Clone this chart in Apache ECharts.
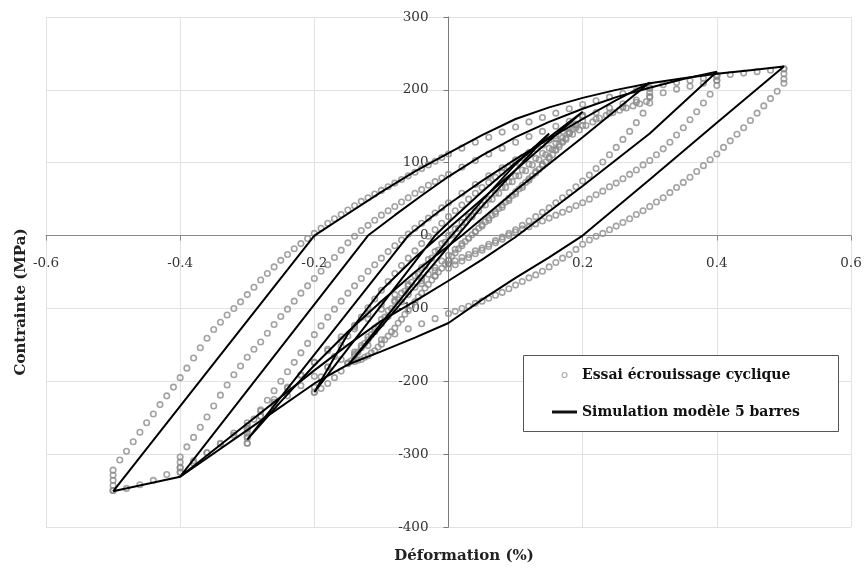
<!DOCTYPE html>
<html>
<head>
<meta charset="utf-8">
<script src="https://cdn.jsdelivr.net/npm/echarts/dist/echarts.min.js"></script>
<style>
html,body{margin:0;padding:0;background:#fff;}
#chart{width:865px;height:569px;}
</style>
</head>
<body>
<div id="chart"></div>
<script>
// ---- Data: Essai écrouissage cyclique (experiment, strain %, stress MPa) ----
const expUp05 = [[-0.5,-350],[-0.5,-343],[-0.5,-336],[-0.5,-329],[-0.5,-322],[-0.49,-308],[-0.48,-296],[-0.47,-283],[-0.46,-270],[-0.45,-257],[-0.44,-245],[-0.43,-232],[-0.42,-220],[-0.41,-208],[-0.40,-195],[-0.39,-182],[-0.38,-168],[-0.37,-154],[-0.36,-141],[-0.35,-129],[-0.34,-119],[-0.33,-109],[-0.32,-100],[-0.31,-91],[-0.30,-81],[-0.29,-71],[-0.28,-61],[-0.27,-52],[-0.26,-43],[-0.25,-34],[-0.24,-26],[-0.23,-18],[-0.22,-11],[-0.21,-4],[-0.20,3],[-0.19,10],[-0.18,17],[-0.17,23],[-0.16,29],[-0.15,35],[-0.14,41],[-0.13,47],[-0.12,52],[-0.11,57],[-0.10,62],[-0.09,67],[-0.08,72],[-0.07,77],[-0.06,82],[-0.05,87],[-0.04,92],[-0.03,97],[-0.02,102],[-0.01,107],[0,112],[0.02,120],[0.04,128],[0.06,135],[0.08,142],[0.10,149],[0.12,156],[0.14,162],[0.16,168],[0.18,174],[0.20,180],[0.22,185],[0.24,190],[0.26,195],[0.28,199],[0.30,203],[0.32,207],[0.34,210],[0.36,213],[0.38,216],[0.40,218],[0.42,221],[0.44,223],[0.46,225],[0.48,227],[0.50,229]];
const expDown05 = [[0.5,229],[0.5,222],[0.5,215],[0.5,209],[0.49,198],[0.48,188],[0.47,178],[0.46,168],[0.45,158],[0.44,148],[0.43,139],[0.42,130],[0.41,121],[0.40,112],[0.39,104],[0.38,96],[0.37,88],[0.36,80],[0.35,73],[0.34,66],[0.33,59],[0.32,52],[0.31,46],[0.30,40],[0.29,34],[0.28,29],[0.27,23],[0.26,18],[0.25,13],[0.24,8],[0.23,3],[0.22,-1],[0.21,-6],[0.20,-12],[0.19,-19],[0.18,-26],[0.17,-31],[0.16,-37],[0.15,-43],[0.14,-49],[0.13,-54],[0.12,-58],[0.11,-63],[0.10,-68],[0.09,-73],[0.08,-78],[0.07,-82],[0.06,-86],[0.05,-90],[0.04,-93],[0.03,-97],[0.02,-100],[0.01,-104],[0,-107],[-0.02,-114],[-0.04,-121],[-0.06,-128],[-0.08,-135],[-0.10,-143],[-0.12,-151],[-0.14,-160],[-0.16,-170],[-0.18,-181],[-0.20,-193],[-0.22,-206],[-0.24,-220],[-0.26,-234],[-0.28,-248],[-0.30,-261],[-0.32,-274],[-0.34,-286],[-0.36,-298],[-0.38,-309],[-0.40,-319],[-0.42,-328],[-0.44,-336],[-0.46,-342],[-0.48,-347],[-0.50,-350]];
const expUp04 = [[-0.40,-325],[-0.40,-318],[-0.40,-311],[-0.40,-304],[-0.39,-290],[-0.38,-277],[-0.37,-263],[-0.36,-249],[-0.35,-234],[-0.34,-219],[-0.33,-205],[-0.32,-191],[-0.31,-179],[-0.30,-167],[-0.29,-156],[-0.28,-146],[-0.27,-134],[-0.26,-122],[-0.25,-111],[-0.24,-101],[-0.23,-90],[-0.22,-79],[-0.21,-69],[-0.20,-59],[-0.19,-49],[-0.18,-40],[-0.17,-30],[-0.16,-20],[-0.15,-10],[-0.14,-1],[-0.13,7],[-0.12,14],[-0.11,21],[-0.10,28],[-0.09,34],[-0.08,40],[-0.07,46],[-0.06,52],[-0.05,58],[-0.04,63],[-0.03,69],[-0.02,74],[-0.01,79],[0,84],[0.02,94],[0.04,103],[0.06,112],[0.08,120],[0.10,128],[0.12,136],[0.14,143],[0.16,150],[0.18,157],[0.20,163],[0.22,169],[0.24,175],[0.26,181],[0.28,186],[0.30,191],[0.32,196],[0.34,201],[0.36,205],[0.38,209],[0.40,213],[0.40,220]];
const expDown04 = [[0.40,220],[0.40,213],[0.40,206],[0.39,194],[0.38,182],[0.37,170],[0.36,159],[0.35,148],[0.34,138],[0.33,128],[0.32,119],[0.31,111],[0.30,103],[0.29,97],[0.28,90],[0.27,84],[0.26,78],[0.25,72],[0.24,67],[0.23,61],[0.22,56],[0.21,50],[0.20,45],[0.19,41],[0.18,36],[0.17,32],[0.16,28],[0.15,24],[0.14,20],[0.13,16],[0.12,12],[0.11,9],[0.10,5],[0.09,0],[0.08,-5],[0.07,-10],[0.06,-15],[0.05,-20],[0.04,-25],[0.03,-30],[0.02,-35],[0.01,-40],[0,-45],[-0.02,-55],[-0.04,-66],[-0.06,-77],[-0.08,-89],[-0.10,-101],[-0.12,-114],[-0.14,-128],[-0.16,-143],[-0.18,-158],[-0.20,-174],[-0.22,-191],[-0.24,-208],[-0.26,-225],[-0.28,-241],[-0.30,-257],[-0.32,-271],[-0.34,-285],[-0.36,-298],[-0.38,-312],[-0.40,-325]];
const expUp03 = [[-0.30,-285],[-0.30,-278],[-0.30,-271],[-0.30,-265],[-0.29,-252],[-0.28,-239],[-0.27,-226],[-0.26,-213],[-0.25,-200],[-0.24,-187],[-0.23,-174],[-0.22,-161],[-0.21,-148],[-0.20,-136],[-0.19,-124],[-0.18,-112],[-0.17,-101],[-0.16,-90],[-0.15,-79],[-0.14,-69],[-0.13,-59],[-0.12,-49],[-0.11,-40],[-0.10,-31],[-0.09,-22],[-0.08,-14],[-0.07,-6],[-0.06,2],[-0.05,10],[-0.04,17],[-0.03,24],[-0.02,31],[-0.01,38],[0,45],[0.02,58],[0.04,70],[0.06,82],[0.08,93],[0.10,104],[0.12,114],[0.14,124],[0.16,133],[0.18,142],[0.20,151],[0.22,160],[0.24,168],[0.26,176],[0.28,183],[0.30,190],[0.30,196],[0.30,202]];
const expDown03 = [[0.30,182],[0.29,168],[0.28,155],[0.27,143],[0.26,132],[0.25,121],[0.24,111],[0.23,101],[0.22,92],[0.21,83],[0.20,75],[0.19,67],[0.18,59],[0.17,52],[0.16,45],[0.15,38],[0.14,32],[0.13,26],[0.12,20],[0.11,14],[0.10,8],[0.09,3],[0.08,-2],[0.07,-7],[0.06,-12],[0.05,-17],[0.04,-21],[0.03,-26],[0.02,-30],[0.01,-35],[0,-39],[-0.02,-48],[-0.04,-58],[-0.06,-69],[-0.08,-81],[-0.10,-94],[-0.12,-108],[-0.14,-123],[-0.16,-139],[-0.18,-156],[-0.20,-174],[-0.22,-192],[-0.24,-210],[-0.26,-229],[-0.28,-248],[-0.30,-266],[-0.30,-276],[-0.30,-285]];
const expUp02 = [[-0.20,-215],[-0.20,-208],[-0.19,-194],[-0.18,-180],[-0.17,-166],[-0.16,-152],[-0.15,-138],[-0.14,-125],[-0.13,-112],[-0.12,-99],[-0.11,-87],[-0.10,-75],[-0.09,-63],[-0.08,-52],[-0.07,-41],[-0.06,-31],[-0.05,-21],[-0.04,-11],[-0.03,-1],[-0.02,8],[-0.01,17],[0,26],[0.01,34],[0.02,42],[0.03,50],[0.04,58],[0.05,66],[0.06,73],[0.07,80],[0.08,87],[0.09,94],[0.10,100],[0.11,107],[0.12,113],[0.13,119],[0.14,125],[0.15,131],[0.16,137],[0.17,143],[0.18,148],[0.19,153],[0.20,158],[0.20,165]];
const expDown02 = [[0.20,165],[0.19,152],[0.18,140],[0.17,128],[0.16,117],[0.15,106],[0.14,96],[0.13,86],[0.12,76],[0.11,66],[0.10,57],[0.09,48],[0.08,39],[0.07,30],[0.06,21],[0.05,13],[0.04,5],[0.03,-3],[0.02,-11],[0.01,-19],[0,-27],[-0.01,-35],[-0.02,-44],[-0.03,-53],[-0.04,-62],[-0.05,-71],[-0.06,-81],[-0.07,-91],[-0.08,-101],[-0.09,-111],[-0.10,-121],[-0.11,-132],[-0.12,-143],[-0.13,-154],[-0.14,-165],[-0.15,-176],[-0.16,-186],[-0.17,-195],[-0.18,-203],[-0.19,-210],[-0.20,-215]];
const expUpS = [[-0.15,-175],[-0.14,-163],[-0.13,-151],[-0.12,-139],[-0.11,-127],[-0.10,-115],[-0.09,-103],[-0.08,-91],[-0.07,-79],[-0.06,-67],[-0.05,-55],[-0.04,-44],[-0.03,-33],[-0.02,-22],[-0.01,-11],[0,0],[0.01,9],[0.02,18],[0.03,26],[0.04,34],[0.05,42],[0.06,50],[0.07,58],[0.08,66],[0.09,74],[0.10,82],[0.11,90],[0.12,98],[0.13,106],[0.14,113],[0.15,120],[0.16,127],[0.17,134],[0.18,141],[0.19,148]];
const expDownS = [[0.19,152],[0.18,140],[0.17,129],[0.16,118],[0.15,108],[0.14,98],[0.13,88],[0.12,78],[0.11,69],[0.10,60],[0.09,51],[0.08,42],[0.07,33],[0.06,24],[0.05,15],[0.04,6],[0.03,-4],[0.02,-14],[0.01,-24],[0,-34],[-0.01,-45],[-0.02,-56],[-0.03,-67],[-0.04,-79],[-0.05,-91],[-0.06,-103],[-0.07,-115],[-0.08,-127],[-0.09,-138],[-0.10,-149],[-0.11,-158],[-0.12,-165],[-0.13,-170],[-0.14,-173],[-0.15,-175]];
const expUpS2 = [[-0.145,-172],[-0.135,-160],[-0.125,-148],[-0.115,-136],[-0.105,-124],[-0.095,-112],[-0.085,-100],[-0.075,-88],[-0.065,-76],[-0.055,-64],[-0.045,-53],[-0.035,-42],[-0.025,-31],[-0.015,-20],[-0.005,-9],[0.005,1],[0.015,10],[0.025,18],[0.035,26],[0.045,34],[0.055,42],[0.065,50],[0.075,58],[0.085,66],[0.095,74],[0.105,82],[0.115,89],[0.125,97],[0.135,104],[0.145,111],[0.155,118],[0.165,125],[0.175,132],[0.185,139],[0.195,145],[0.205,151],[0.215,156],[0.225,161],[0.235,165],[0.245,169],[0.255,172],[0.265,175],[0.275,178],[0.285,181],[0.295,184]];
const expDownS2 = [[0.185,146],[0.175,134],[0.165,122],[0.155,111],[0.145,101],[0.135,91],[0.125,82],[0.115,73],[0.105,64],[0.095,55],[0.085,46],[0.075,37],[0.065,28],[0.055,19],[0.045,10],[0.035,1],[0.025,-8],[0.015,-18],[0.005,-28],[-0.005,-39],[-0.015,-50],[-0.025,-61],[-0.035,-72],[-0.045,-84],[-0.055,-96],[-0.065,-108],[-0.075,-120],[-0.085,-132],[-0.095,-143],[-0.105,-153],[-0.115,-161],[-0.125,-167],[-0.135,-171]];

// ---- Data: Simulation modèle 5 barres ----
const simUp05 = [[-0.5,-351],[-0.2,0],[-0.15,30],[-0.1,60],[-0.05,88],[0,113],[0.05,138],[0.1,160],[0.15,176],[0.2,189],[0.25,200],[0.3,209],[0.35,216],[0.4,222],[0.45,227],[0.5,232]];
const simDown05 = [[0.5,232],[0.4,155],[0.3,77],[0.2,0],[0.15,-30],[0.1,-58],[0.05,-88],[0,-120],[-0.05,-140],[-0.1,-159],[-0.15,-177],[-0.2,-203],[-0.3,-267],[-0.4,-331],[-0.5,-351]];
const simUp04 = [[-0.4,-331],[-0.12,0],[-0.08,28],[-0.04,55],[0,81],[0.05,110],[0.1,135],[0.15,156],[0.2,174],[0.25,190],[0.3,203],[0.35,215],[0.4,225]];
const simDown04 = [[0.4,225],[0.3,140],[0.2,68],[0.1,-2],[0.05,-33],[0,-62],[-0.05,-90],[-0.1,-117],[-0.15,-150],[-0.2,-185],[-0.3,-258],[-0.4,-331]];
const simUp03 = [[-0.3,-280],[-0.06,0],[-0.03,22],[0,43],[0.05,75],[0.1,105],[0.15,133],[0.2,160],[0.25,186],[0.3,210]];
const simDown03 = [[0.3,210],[0.2,135],[0.1,62],[0.02,0],[0,-14],[-0.05,-50],[-0.1,-90],[-0.15,-132],[-0.2,-178],[-0.25,-228],[-0.3,-280]];
const simUp02 = [[-0.2,-215],[-0.02,0],[0,18],[0.05,60],[0.1,100],[0.15,135],[0.2,170]];
const simDown02 = [[0.2,170],[0.1,90],[0,10],[-0.05,-30],[-0.1,-75],[-0.15,-135],[-0.2,-215]];
const simUpS = [[-0.15,-178],[0,-5],[0.05,48],[0.1,98],[0.15,140]];
const simDownS = [[0.15,140],[0.05,40],[0,-15],[-0.05,-70],[-0.1,-125],[-0.15,-178]];

const expName = 'Essai écrouissage cyclique';
const simName = 'Simulation modèle 5 barres';
const xTicks = { min: -0.6, max: 0.6, interval: 0.2 };
const yTicks = { min: -400, max: 300, interval: 100 };

const expAll = [].concat(expUp05, expDown05, expUp04, expDown04, expUp03, expDown03, expUp02, expDown02, expUpS, expDownS, expUpS2, expDownS2);
const simLoops = [simUpS.concat(simDownS), simUp02.concat(simDown02), simUp03.concat(simDown03), simUp04.concat(simDown04), simUp05.concat(simDown05)];

// layout
const G = { left: 46, top: 17, width: 805, height: 510 };
const x0px = G.left + G.width * (0 - xTicks.min) / (xTicks.max - xTicks.min);
const y0px = G.top + G.height * (yTicks.max - 0) / (yTicks.max - yTicks.min);

const serif = 'DejaVu Serif';
const chart = echarts.init(document.getElementById('chart'), null, { renderer: 'canvas' });

const series = [{
  name: expName,
  type: 'scatter',
  data: expAll,
  symbol: 'circle',
  symbolSize: 5.5,
  itemStyle: { color: 'rgba(0,0,0,0)', borderColor: '#8c8c8c', borderWidth: 1.6 },
  z: 2,
  silent: true
}];
simLoops.forEach(function (loop) {
  series.push({
    name: simName,
    type: 'line',
    data: loop,
    symbol: 'none',
    showSymbol: false,
    lineStyle: { color: '#000', width: 2 },
    itemStyle: { color: '#000' },
    z: 3,
    silent: true
  });
});

chart.setOption({
  animation: false,
  backgroundColor: '#fff',
  grid: { left: G.left, top: G.top, width: G.width, height: G.height, containLabel: false },
  xAxis: {
    type: 'value', min: xTicks.min, max: xTicks.max, interval: xTicks.interval,
    position: 'bottom',
    offset: y0px - (G.top + G.height),
    axisLine: { show: true, onZero: false, lineStyle: { color: '#8a8a8a', width: 1 } },
    axisTick: { show: true, inside: false, length: 5, lineStyle: { color: '#8a8a8a' } },
    axisLabel: { margin: 21, fontFamily: serif, fontSize: 13.5, color: '#333',
      formatter: function (v) { return String(+v.toFixed(1)); } },
    splitLine: { show: true, lineStyle: { color: '#e2e2e2', width: 1 } }
  },
  yAxis: {
    type: 'value', min: yTicks.min, max: yTicks.max, interval: yTicks.interval,
    position: 'left',
    offset: G.left - x0px,
    axisLine: { show: true, onZero: false, lineStyle: { color: '#7a7a7a', width: 1 } },
    axisTick: { show: true, inside: false, length: 5, lineStyle: { color: '#7a7a7a' } },
    axisLabel: { margin: 20, fontFamily: serif, fontSize: 13.5, color: '#333',
      formatter: function (v) { return String(Math.round(v)); } },
    splitLine: { show: true, lineStyle: { color: '#e2e2e2', width: 1 } }
  },
  legend: {
    orient: 'vertical',
    left: 523, top: 355,
    padding: [13, 28, 12, 29],
    itemGap: 23,
    itemWidth: 25, itemHeight: 5,
    z: 20,
    textStyle: { fontFamily: serif, fontWeight: 'bold', fontSize: 14, color: '#111' },
    data: [
      { name: expName, icon: 'circle', itemStyle: { color: 'rgba(0,0,0,0)', borderColor: '#999', borderWidth: 1.2 } },
      { name: simName, icon: 'path://M0,0L25,0L25,3L0,3Z', itemStyle: { color: '#111', borderWidth: 0 } }
    ]
  },
  graphic: [
    { type: 'rect', z: 10, shape: { x: 523.5, y: 355.5, width: 315, height: 76 },
      style: { fill: '#fff', stroke: '#555', lineWidth: 1 } },
    { type: 'text', x: 21, y: 302, rotation: Math.PI / 2,
      style: { text: 'Contrainte (MPa)', font: 'bold 15px "DejaVu Serif"', fill: '#222', textAlign: 'center', textVerticalAlign: 'middle' } },
    { type: 'text', x: 464, y: 556,
      style: { text: 'Déformation (%)', font: 'bold 15px "DejaVu Serif"', fill: '#222', textAlign: 'center', textVerticalAlign: 'middle' } }
  ],
  series: series
});
</script>
</body>
</html>
